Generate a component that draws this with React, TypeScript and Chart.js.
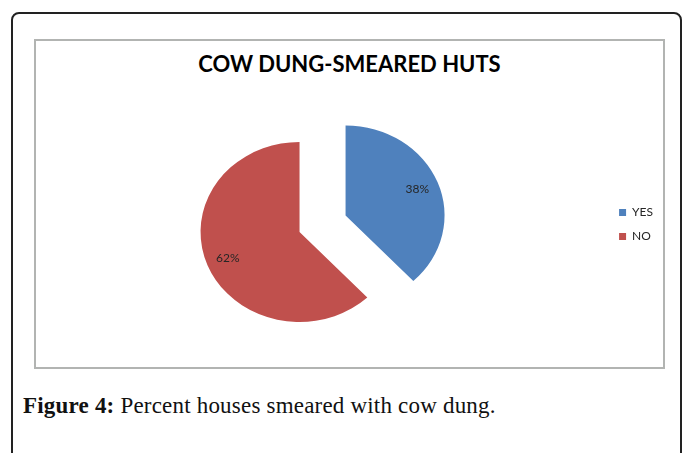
import React, { useEffect, useRef } from "react";
import { Chart, registerables } from "chart.js";

Chart.register(...registerables);

const CATEGORIES = ["YES", "NO"];
const VALUES = [38, 62];
const TITLE = "COW DUNG-SMEARED HUTS";
const CAPTION_LABEL = "Figure 4:";
const CAPTION_TEXT = " Percent houses smeared with cow dung.";

const COLORS = ["#4F81BD", "#C0504D"];
const EXPLODE = [45, 0];
const STRETCH_X = 1.1;
const LABEL_POS = 0.78;

const explodePlugin = {
  id: "explodeStretch",
  beforeDatasetDraw(chart: any, args: any) {
    const ctx = chart.ctx;
    const meta = args.meta;
    meta.data.forEach((arc: any, i: number) => {
      const { x, y, startAngle, endAngle } = arc.getProps(["x", "y", "startAngle", "endAngle"]);
      const mid = (startAngle + endAngle) / 2;
      const d = EXPLODE[i] || 0;
      ctx.save();
      ctx.translate(x + Math.cos(mid) * d * STRETCH_X, y + Math.sin(mid) * d);
      ctx.scale(STRETCH_X, 1);
      ctx.translate(-x, -y);
      arc.draw(ctx);
      ctx.restore();
    });
    return false;
  },
  afterDatasetsDraw(chart: any) {
    const ctx = chart.ctx;
    const meta = chart.getDatasetMeta(0);
    const data = chart.data.datasets[0].data as number[];
    const total = data.reduce((a, b) => a + b, 0);
    ctx.save();
    ctx.font = "12px Lato";
    ctx.fillStyle = "#262626";
    ctx.textAlign = "center";
    ctx.textBaseline = "middle";
    meta.data.forEach((arc: any, i: number) => {
      const { x, y, startAngle, endAngle, outerRadius } = arc.getProps([
        "x",
        "y",
        "startAngle",
        "endAngle",
        "outerRadius",
      ]);
      const mid = (startAngle + endAngle) / 2;
      const dist = (EXPLODE[i] || 0) + outerRadius * LABEL_POS;
      const lx = x + Math.cos(mid) * dist * STRETCH_X;
      const ly = y + Math.sin(mid) * dist;
      ctx.fillText(Math.round((data[i] / total) * 100) + "%", lx, ly);
    });
    ctx.restore();
  },
};

function PieChart() {
  const ref = useRef<HTMLCanvasElement | null>(null);
  useEffect(() => {
    if (!ref.current) return;
    const chart = new Chart(ref.current, {
      type: "pie",
      data: {
        labels: CATEGORIES,
        datasets: [
          {
            data: VALUES,
            backgroundColor: COLORS,
            borderWidth: 0,
          },
        ],
      },
      options: {
        responsive: false,
        animation: false,
        devicePixelRatio: 1,
        radius: 90,
        layout: { padding: { top: 94.5, bottom: 90.5, left: 0, right: 0 } },
        plugins: {
          legend: {
            position: "right",
            align: "start",
            labels: {
              boxWidth: 7,
              boxHeight: 7,
              padding: 12,
              color: "#262626",
              font: { family: "Lato", size: 12 },
            },
          },
          tooltip: { enabled: false },
          title: { display: false },
        },
      } as any,
      plugins: [explodePlugin as any],
    });
    return () => chart.destroy();
  }, []);
  return (
    <canvas
      ref={ref}
      width={671}
      height={260}
      style={{ position: "absolute", left: -8, top: 100, width: 671, height: 260 }}
    />
  );
}

export default function App() {
  return (
    <div
      style={{
        position: "absolute",
        left: 0,
        top: 0,
        width: 683,
        height: 453,
        overflow: "hidden",
        background: "#fff",
      }}
    >
      <div
        style={{
          position: "absolute",
          left: 11,
          top: 12,
          width: 671,
          height: 600,
          border: "2px solid #222",
          borderRadius: 8,
          boxSizing: "border-box",
        }}
      />
      <div
        style={{
          position: "absolute",
          left: 34,
          top: 39,
          width: 631,
          height: 330,
          border: "2px solid #b2b4b2",
          boxSizing: "border-box",
        }}
      />
      <div
        style={{
          position: "absolute",
          left: 35,
          top: 51,
          width: 629,
          textAlign: "center",
          fontFamily: "Lato",
          fontWeight: 700,
          fontSize: 22,
          lineHeight: "26px",
          color: "#000",
          whiteSpace: "nowrap",
        }}
      >
        {TITLE}
      </div>
      <PieChart />
      <div
        style={{
          position: "absolute",
          left: 23,
          top: 392,
          fontFamily: "'Liberation Serif', serif",
          fontSize: 23,
          letterSpacing: 0.2,
          lineHeight: "28px",
          color: "#111",
          whiteSpace: "nowrap",
        }}
      >
        <b>{CAPTION_LABEL}</b>
        {CAPTION_TEXT}
      </div>
    </div>
  );
}
